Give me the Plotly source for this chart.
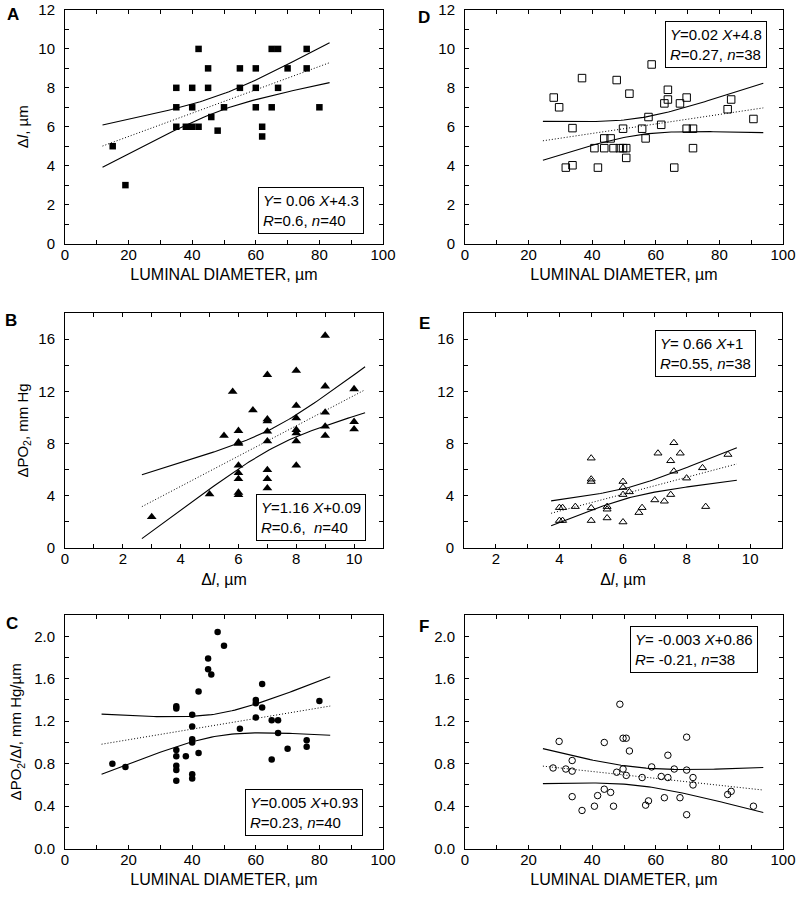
import numpy as np
import plotly.graph_objects as go

# ---------------- data ----------------
# Panel A: luminal diameter vs delta l (filled squares)
a_x = [15, 19, 35, 35, 35, 38, 40, 42, 40, 40, 42, 45, 45, 46, 48, 50, 55, 55, 60, 60, 60, 62, 62,
       65, 65, 67, 67, 70, 76, 76, 80]
a_y = [5, 3, 8, 7, 6, 6, 6, 6, 7, 8, 10, 9, 8, 6.5, 5.8, 7, 9, 8, 9, 8, 7, 6, 5.5,
       7, 10, 10, 8, 9, 10, 9, 7]

# Panel D: luminal diameter vs delta l (open squares)
d_x = [27.9, 29.6, 31.7, 33.8, 33.8, 36.8, 40.7, 41.8, 43.8, 45.8, 43.8, 46.7, 48.7, 49.7, 50.7,
       47.7, 49.7, 50.7, 51.7, 55.7, 56.8, 57.7, 58.7, 61.7, 62.7, 63.8, 63.8, 65.8, 67.6, 69.7,
       69.7, 71.7, 71.7, 82.6, 83.7, 90.7]
d_y = [7.5, 7.0, 3.9, 5.93, 4.02, 8.5, 4.9, 3.9, 5.4, 5.4, 4.9, 4.9, 4.9, 4.9, 4.9,
       8.4, 5.9, 4.4, 7.7, 5.9, 5.4, 6.5, 9.2, 6.1, 7.2, 7.4, 7.9, 3.9, 7.2, 7.5,
       5.9, 5.9, 4.9, 6.9, 7.4, 6.4]

# Panel B: delta l vs delta PO2 (filled triangles)
b_x = [3, 5, 5.5, 5.8, 6, 6, 6, 6, 6, 6, 6, 6, 6.5, 7, 7, 7, 7, 7, 7, 7, 7,
       8, 8, 8, 8, 8, 8, 8, 9, 9, 9, 9, 9, 10, 10, 10]
b_y = [2.38, 4.12, 8.6, 11.97, 8.98, 8.1, 8.0, 6.32, 5.75, 5.29, 4.25, 4.07, 10.56,
       13.27, 9.87, 9.72, 8.93, 8.18, 5.98, 5.29, 4.58,
       13.58, 10.9, 9.95, 9.05, 8.8, 8.18, 6.32, 16.27, 12.38, 10.38, 9.31, 8.6, 12.17, 9.67, 9.1]

# Panel E: delta l vs delta PO2 (open triangles)
e_x = [4, 4.1, 4, 4.1, 4.5, 5, 5, 5, 5, 5, 5.5, 5.5, 5.5, 6, 6, 6, 6, 6.2, 6.5, 6.6,
       7, 7.1, 7.3, 7.5, 7.5, 7.6, 7.6, 7.8, 8, 8.5, 8.6, 9.3]
e_y = [3.09, 3.09, 2.1, 2.1, 3.17, 6.88, 5.27, 5.09, 3.07, 2.1, 3.17, 2.97, 2.3, 5.09, 4.63,
       4.09, 1.99, 4.3, 2.71, 3.09, 3.68, 7.26, 3.58, 6.68, 4.09, 8.06, 5.88, 7.26, 5.35,
       6.14, 3.17, 7.16]

# Panel C: luminal diameter vs dPO2/dl (filled circles)
c_x = [14.9, 19, 35, 35, 35, 35, 35, 35, 35, 38, 40, 40, 40, 40, 40, 40, 42, 42, 45, 45, 46,
       48, 50, 55, 60, 60, 60, 62, 62, 65, 67, 67, 65, 70, 76, 76, 80]
c_y = [0.80, 0.77, 1.34, 1.32, 0.93, 0.87, 0.78, 0.74, 0.64, 0.87, 1.26, 1.15, 1.03, 1.0,
       0.70, 0.66, 1.48, 0.90, 1.79, 1.69, 1.64, 2.04, 1.91, 1.13, 1.40, 1.37, 1.235, 1.55,
       1.33, 1.21, 1.21, 1.09, 0.84, 0.94, 1.02, 0.96, 1.39]

# Panel F: luminal diameter vs dPO2/dl (open circles)
f_x = [27.7, 29.6, 31.7, 33.7, 33.7, 33.7, 36.8, 40.7, 41.7, 43.8, 43.8, 45.8, 46.7, 47.7,
       48.7, 49.7, 49.7, 50.7, 50.7, 51.7, 55.7, 56.8, 57.7, 58.7, 61.7, 62.7, 63.8, 63.8,
       65.8, 67.6, 69.7, 69.7, 69.7, 71.7, 71.7, 82.6, 83.7, 90.7]
f_y = [0.76, 1.01, 0.75, 0.83, 0.73, 0.49, 0.36, 0.40, 0.50, 1.0, 0.56, 0.53, 0.40, 0.72,
       1.36, 0.75, 1.04, 1.04, 0.69, 0.92, 0.67, 0.41, 0.45, 0.77, 0.68, 0.48, 0.67, 0.88,
       0.75, 0.48, 0.74, 1.05, 0.32, 0.67, 0.60, 0.51, 0.54, 0.40]

# regression lines as drawn: slope, intercept, x-start, x-end
fit_slope = {"A": 0.06, "D": 0.0244, "B": 1.16, "E": 0.647, "C": 0.005, "F": -0.00325}
fit_icpt = {"A": 4.3, "D": 4.68, "B": 0.08, "E": 0.24, "C": 0.926, "F": 0.857}
fit_x0 = {"A": 11.8, "D": 24.5, "B": 2.66, "E": 3.74, "C": 11.5, "F": 24.5}
fit_x1 = {"A": 83.2, "D": 93.8, "B": 10.38, "E": 9.58, "C": 83.4, "F": 93.8}
# confidence band: centre x, half-width at centre, spread
band_xc = {"A": 48.7, "D": 54.3, "B": 7.25, "E": 6.2, "C": 48.0, "F": 53.7}
band_h0 = {"A": 0.4, "D": 0.43, "B": 0.75, "E": 0.4, "C": 0.105, "F": 0.085}
band_k = {"A": 0.0273, "D": 0.0303, "B": 0.508, "E": 0.35, "C": 0.0072, "F": 0.00484}

eq_text = {
    "A": "<i>Y</i>= 0.06 <i>X</i>+4.3<br><i>R</i>=0.6, <i>n</i>=40",
    "D": "<i>Y</i>=0.02 <i>X</i>+4.8<br><i>R</i>=0.27, <i>n</i>=38",
    "B": "<i>Y</i>=1.16 <i>X</i>+0.09<br><i>R</i>=0.6,  <i>n</i>=40",
    "E": "<i>Y</i>= 0.66 <i>X</i>+1<br><i>R</i>=0.55, <i>n</i>=38",
    "C": "<i>Y</i>=0.005 <i>X</i>+0.93<br><i>R</i>=0.23, <i>n</i>=40",
    "F": "<i>Y</i>= -0.003 <i>X</i>+0.86<br><i>R</i>= -0.21, <i>n</i>=38",
}

# axis ranges and tick steps: (range, major step, minor step, format)
x_axes = {"A": ([0, 100], 20, 10, "d"), "D": ([0, 100], 20, 10, "d"),
          "B": ([0, 11], 2, 1, "d"), "E": ([1, 11], 2, 1, "d"),
          "C": ([0, 100], 20, 10, "d"), "F": ([0, 100], 20, 10, "d")}
y_axes = {"A": ([0, 12], 2, 1, "d"), "D": ([0, 12], 2, 1, "d"),
          "B": ([0, 18], 4, 2, "d"), "E": ([0, 18], 4, 2, "d"),
          "C": ([0, 2.2], 0.4, 0.2, ".1f"), "F": ([0, 2.2], 0.4, 0.2, ".1f")}

x_titles = {"A": "LUMINAL DIAMETER, µm", "D": "LUMINAL DIAMETER, µm",
            "B": "Δ<i>l</i>, µm", "E": "Δ<i>l</i>, µm",
            "C": "LUMINAL DIAMETER, µm", "F": "LUMINAL DIAMETER, µm"}
y_titles = {"A": ("Δ<i>l</i>, µm", 6), "B": ("ΔPO<sub>2</sub>, mm Hg", 6),
            "C": ("ΔPO<sub>2</sub>/Δ<i>l</i>, mm Hg/µm", 8)}

# ---------------- figure ----------------
W, H = 800, 899
FONT = "Liberation Sans, Arial, Helvetica, sans-serif"

def px2fx(px):
    return px / W

def px2fy(py):
    return 1 - py / H

panels = {
    "A": (1, (65, 383), (10, 243.5), a_x, a_y, dict(symbol="square", size=6.5, color="black")),
    "D": (2, (465, 783), (10, 243.5), d_x, d_y,
          dict(symbol="square-open", size=7.5, color="black", line=dict(width=1, color="black"))),
    "B": (3, (65, 383), (313, 548), b_x, b_y, dict(symbol="triangle-up", size=8.5, color="black")),
    "E": (4, (464, 782), (313, 548), e_x, e_y,
          dict(symbol="triangle-up-open", size=7, color="black", line=dict(width=1, color="black"))),
    "C": (5, (65, 383), (615, 848.7), c_x, c_y, dict(symbol="circle", size=6.5, color="black")),
    "F": (6, (465, 783), (615, 848.7), f_x, f_y,
          dict(symbol="circle-open", size=6.5, color="black", line=dict(width=1, color="black"))),
}

fig = go.Figure()
layout = dict(width=W, height=H, margin=dict(l=0, r=0, t=0, b=0, autoexpand=False),
              paper_bgcolor="white", plot_bgcolor="white", showlegend=False,
              font=dict(family=FONT, size=15, color="black"))
annotations = []

for key, (i, xpx, ypx, xs, ys, mk) in panels.items():
    xa = "x" if i == 1 else f"x{i}"
    ya = "y" if i == 1 else f"y{i}"
    common = dict(showline=True, linecolor="black", linewidth=1, mirror="ticks",
                  ticks="inside", ticklen=4, tickcolor="black", tickwidth=1,
                  showgrid=False, zeroline=False, automargin=False,
                  tickfont=dict(family=FONT, size=15))
    xr, xd, xm, xf = x_axes[key]
    yr, yd, ym, yf = y_axes[key]
    xaxis = dict(common, domain=[px2fx(xpx[0]), px2fx(xpx[1])], range=xr,
                 tick0=0, dtick=xd, tickformat=xf,
                 minor=dict(dtick=xm, tick0=0, ticks="inside", ticklen=4, tickcolor="black",
                            showgrid=False),
                 anchor=ya, ticklabelstandoff=-3,
                 title=dict(text=x_titles[key], font=dict(family=FONT, size=16), standoff=7))
    yaxis = dict(common, domain=[px2fy(ypx[1]), px2fy(ypx[0])], range=yr,
                 tick0=0, dtick=yd, tickformat=yf,
                 minor=dict(dtick=ym, tick0=0, ticks="inside", ticklen=4, tickcolor="black",
                            showgrid=False),
                 anchor=xa, ticklabelstandoff=6)
    if key in y_titles:
        ttl, so = y_titles[key]
        yaxis["title"] = dict(text=ttl, font=dict(family=FONT, size=15), standoff=so)
    layout["xaxis" if i == 1 else f"xaxis{i}"] = xaxis
    layout["yaxis" if i == 1 else f"yaxis{i}"] = yaxis

    fig.add_trace(go.Scatter(x=xs, y=ys, mode="markers", marker=mk, xaxis=xa, yaxis=ya,
                             cliponaxis=False))
    xl = np.linspace(fit_x0[key], fit_x1[key], 80)
    yl = fit_slope[key] * xl + fit_icpt[key]
    hw = np.sqrt(band_h0[key] ** 2 + (band_k[key] * (xl - band_xc[key])) ** 2)
    fig.add_trace(go.Scatter(x=xl, y=yl, mode="lines", xaxis=xa, yaxis=ya,
                             line=dict(color="black", width=1, dash="1px,2px")))
    fig.add_trace(go.Scatter(x=xl, y=yl + hw, mode="lines", xaxis=xa, yaxis=ya,
                             line=dict(color="black", width=1.1)))
    fig.add_trace(go.Scatter(x=xl, y=yl - hw, mode="lines", xaxis=xa, yaxis=ya,
                             line=dict(color="black", width=1.1)))

box_c = {"A": (311, 210.5), "D": (716, 44.5), "B": (311, 517), "E": (705, 353.5),
         "C": (303.5, 812), "F": (694, 649.5)}
for key, (cx, cy) in box_c.items():
    annotations.append(dict(text=eq_text[key], xref="paper", yref="paper",
                            x=px2fx(cx), y=px2fy(cy), xanchor="center", yanchor="middle",
                            showarrow=False, align="left", bgcolor="white",
                            bordercolor="black", borderwidth=1, borderpad=4,
                            font=dict(family=FONT, size=15, color="black")))

letters = {"A": (13, 15), "B": (11, 320), "C": (12, 623), "D": (424, 18), "E": (424, 323), "F": (424, 626)}
for key, (lx, ly) in letters.items():
    annotations.append(dict(text=f"<b>{key}</b>", xref="paper", yref="paper",
                            x=px2fx(lx), y=px2fy(ly), xanchor="center", yanchor="middle",
                            showarrow=False, font=dict(family=FONT, size=17, color="black")))

layout["annotations"] = annotations
fig.update_layout(**layout)
fig.write_html("out.html", config={"displayModeBar": False},
               post_script="document.body.style.margin='0px';")
